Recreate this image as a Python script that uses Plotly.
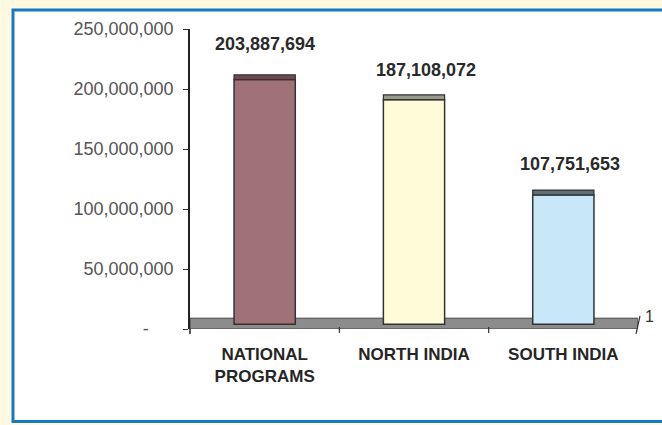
import plotly.graph_objects as go

categories = ["NATIONAL<br>PROGRAMS", "NORTH INDIA", "SOUTH INDIA"]
values = [203887694, 187108072, 107751653]
value_labels = ["203,887,694", "187,108,072", "107,751,653"]
tick_vals = [0, 50000000, 100000000, 150000000, 200000000, 250000000]
tick_text = ["-" + "\u00a0" * 5, "50,000,000", "100,000,000", "150,000,000", "200,000,000", "250,000,000"]

bar_colors = ["#A07176", "#FFFBD8", "#C8E7F8"]
cap_colors = ["#6E4A4E", "#9A9A8A", "#5E6E78"]
DEPTH = 4000000   # visual 3D depth offset
CAP = 4000000
FONT = "Liberation Sans, Arial"

W, H = 662, 425
L, R, T, B = 190, 24, 29, 96
pw, ph = W - L - R, H - T - B

def px(x):
    return (x - L) / pw

def py(y):
    return (H - B - y) / ph

fig = go.Figure()
fig.add_trace(go.Bar(
    x=list(range(len(categories))),
    y=values,
    base=DEPTH,
    width=0.41,
    marker=dict(color=bar_colors, line=dict(color="#333333", width=1.5)),
    hoverinfo="skip",
))

shapes = []
# outer frame
shapes.append(dict(type="rect", xref="paper", yref="paper",
                   x0=px(13), x1=px(668), y0=py(421.5), y1=py(10),
                   fillcolor="white", line=dict(color="#1878C0", width=3), layer="below"))
# floor
shapes.append(dict(type="rect", xref="x", yref="y", x0=-0.5, x1=2.5, y0=0, y1=9000000,
                   fillcolor="#8C8C8C", line=dict(color="#444444", width=1), layer="below"))
# bar caps
for i, v in enumerate(values):
    shapes.append(dict(type="rect", xref="x", yref="y",
                       x0=i - 0.205, x1=i + 0.205, y0=v + DEPTH, y1=v + DEPTH + CAP,
                       fillcolor=cap_colors[i], line=dict(color="#333333", width=1.2)))
# depth tick at right end
shapes.append(dict(type="line", xref="paper", yref="paper",
                   x0=px(636), x1=px(640), y0=py(334), y1=py(316),
                   line=dict(color="#333333", width=1.2)))
# category boundary ticks
for xb in [0.5, 1.5]:
    shapes.append(dict(type="line", xref="x", yref="paper", x0=xb, x1=xb, y0=py(327), y1=py(333),
                       line=dict(color="#333333", width=1.2)))
# axis line extension below floor
shapes.append(dict(type="line", xref="paper", yref="paper", x0=0, x1=0, y0=py(329), y1=py(334),
                   line=dict(color="#222222", width=1.5)))

label_yshift = [31, 25, 26]
label_xshift = [0, 12, 7]
annotations = []
for i, v in enumerate(values):
    annotations.append(dict(x=i, y=v + DEPTH + CAP, xref="x", yref="y",
                            text="<b>" + value_labels[i] + "</b>", showarrow=False,
                            yshift=label_yshift[i], xshift=label_xshift[i],
                            font=dict(family=FONT, size=18, color="#2A2A2A")))
annotations.append(dict(x=px(656), y=py(327), xref="paper", yref="paper", text="1",
                        showarrow=False, font=dict(family=FONT, size=16, color="#333333")))

fig.update_layout(
    width=W, height=H,
    margin=dict(l=L, r=R, t=T, b=B),
    paper_bgcolor="#FFF9E1",
    plot_bgcolor="rgba(0,0,0,0)",
    showlegend=False,
    shapes=shapes,
    annotations=annotations,
    xaxis=dict(range=[-0.5, 2.5], tickvals=[0, 1, 2],
               ticktext=["<b>" + c.replace("<br>", "</b><br><b>") + "</b>" for c in categories],
               showgrid=False, zeroline=False, showline=False,
               ticks="", ticklabelstandoff=13,
               tickfont=dict(family=FONT, size=17, color="#262626")),
    yaxis=dict(range=[0, 250000000], tickvals=tick_vals, ticktext=tick_text,
               showgrid=False, zeroline=False, showline=True, linecolor="#222222", linewidth=1.5,
               ticks="outside", ticklen=5, tickcolor="#333333", ticklabelstandoff=6,
               tickfont=dict(family=FONT, size=18, color="#555555")),
)

fig.write_html("out.html", config={"displayModeBar": False},
               post_script="document.body.style.margin='0';document.body.style.overflow='hidden';")
